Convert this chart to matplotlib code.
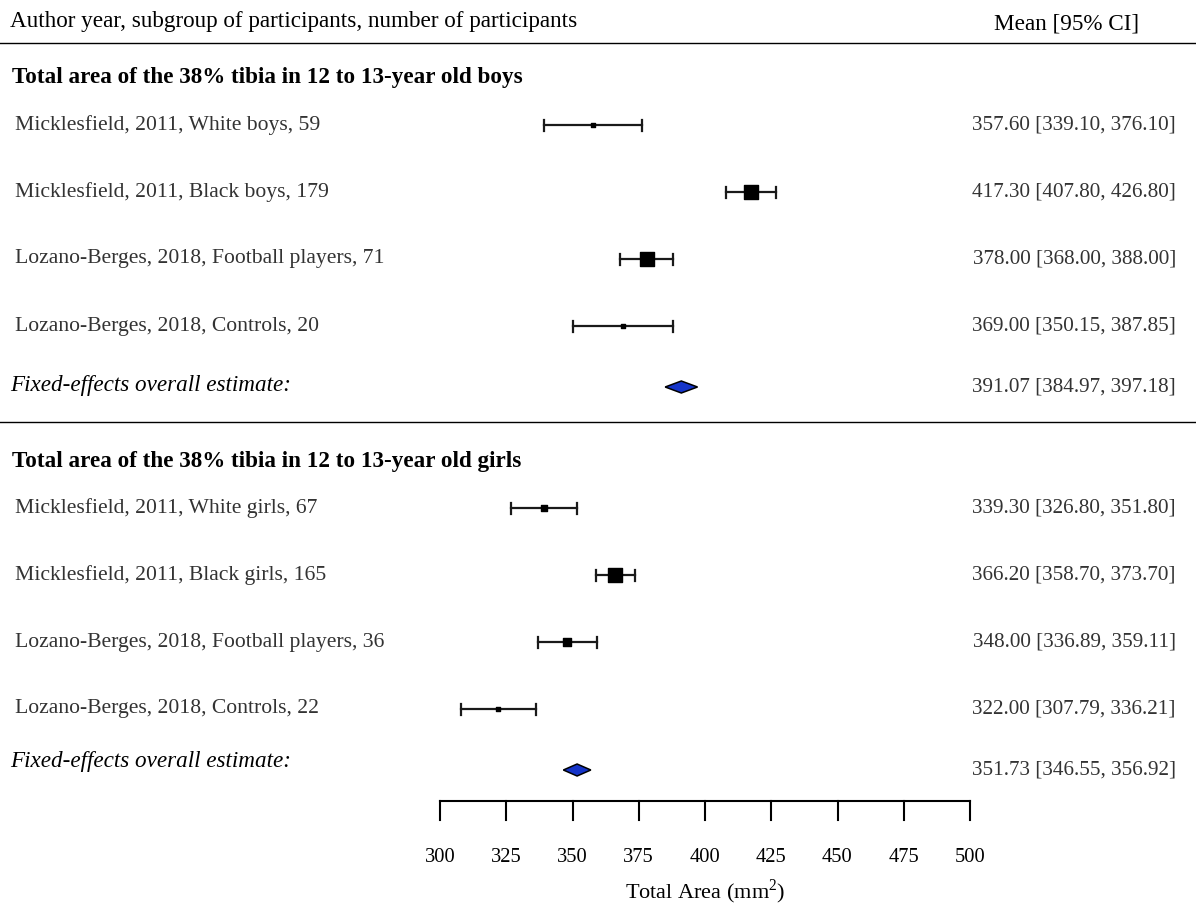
import matplotlib.pyplot as plt
from matplotlib.patches import Polygon

plt.rcParams['font.family'] = ['Liberation Serif', 'DejaVu Serif']

# study rows: label, mean, lower, upper
boys_labels = ["Micklesfield, 2011, White boys, 59",
               "Micklesfield, 2011, Black boys, 179",
               "Lozano-Berges, 2018, Football players, 71",
               "Lozano-Berges, 2018, Controls, 20"]
boys_mean = [357.60, 417.30, 378.00, 369.00]
boys_lo = [339.10, 407.80, 368.00, 350.15]
boys_hi = [376.10, 426.80, 388.00, 387.85]
boys_fe = [391.07, 384.97, 397.18]

girls_labels = ["Micklesfield, 2011, White girls, 67",
                "Micklesfield, 2011, Black girls, 165",
                "Lozano-Berges, 2018, Football players, 36",
                "Lozano-Berges, 2018, Controls, 22"]
girls_mean = [339.30, 366.20, 348.00, 322.00]
girls_lo = [326.80, 358.70, 336.89, 307.79]
girls_hi = [351.80, 373.70, 359.11, 336.21]
girls_fe = [351.73, 346.55, 356.92]

titles = ["Total area of the 38% tibia in 12 to 13-year old boys",
          "Total area of the 38% tibia in 12 to 13-year old girls"]
xticks = [300, 325, 350, 375, 400, 425, 450, 475, 500]

W, H = 1196, 906
PX = 2.65  # pixels per mm^2 on the x scale
X0 = 300 - 440 / PX

fig = plt.figure(figsize=(W / 100, H / 100), dpi=100)
ax = fig.add_axes([0, 0, 1, 1])
ax.set_xlim(X0, X0 + W / PX)
ax.set_ylim(H, 0)
ax.axis('off')
tr = ax.get_yaxis_transform()  # x in axes fraction, y in pixels


def fx(px):
    return px / W


fs_head = 16.7
fs_row = 15.6
fs_num = 15.2
ax.text(fx(10), 22, "Author year, subgroup of participants, number of participants",
        transform=tr, fontsize=fs_head, va='center', ha='left')
ax.text(fx(1067), 24, "Mean [95% CI]", transform=tr, fontsize=fs_head, va='center', ha='center')
ax.plot([0, 1], [43, 43], transform=tr, color='black', lw=1.0)
ax.plot([0, 1], [422, 422], transform=tr, color='black', lw=1.0)


def group(y0, title, labels, mean, lo, hi, fe, fe_dy):
    ax.text(fx(12), y0 - 47, title, transform=tr, fontsize=fs_head, fontweight='bold',
            va='center', ha='left')
    # inverse-variance weights set the square sizes
    w = [1 / ((h - l) / 3.92) ** 2 for l, h in zip(lo, hi)]
    ps = [0.5 + (v - min(w)) / (max(w) - min(w)) for v in w]
    for i in range(len(labels)):
        y = y0 + i * 67
        ax.text(fx(15), y, labels[i], transform=tr, fontsize=fs_row, color='#333333',
                va='center', ha='left')
        ax.text(fx(1176), y, "%.2f [%.2f, %.2f]" % (mean[i], lo[i], hi[i]),
                transform=tr, fontsize=fs_num, color='#333333', va='center', ha='right')
        ax.plot([lo[i], hi[i]], [y, y], color='#1a1a1a', lw=1.6)
        for e in (lo[i], hi[i]):
            ax.plot([e, e], [y - 5.5, y + 5.5], color='#1a1a1a', lw=1.6)
        side = ps[i] * 9.5 * 0.72
        ax.scatter([mean[i]], [y], marker='s', s=side ** 2, color='black', zorder=3)
    yd = y0 + 3 * 67 + 61
    est, l, h = fe
    ax.add_patch(Polygon([(l, yd), (est, yd - 6), (h, yd), (est, yd + 6)],
                         closed=True, facecolor='#1534c8', edgecolor='black', lw=1.1))
    ax.text(fx(10), yd + fe_dy, "Fixed-effects overall estimate:", transform=tr,
            fontsize=fs_head, style='italic', va='center', ha='left')
    ax.text(fx(1176), yd, "%.2f [%.2f, %.2f]" % (est, l, h), transform=tr,
            fontsize=fs_num, color='#333333', va='center', ha='right')


group(125, titles[0], boys_labels, boys_mean, boys_lo, boys_hi, boys_fe, -1)
group(508, titles[1], girls_labels, girls_mean, girls_lo, girls_hi, girls_fe, -9)

# x axis drawn by hand like a forest plot
ax.plot([xticks[0], xticks[-1]], [801, 801], color='black', lw=1.5)
for t in xticks:
    ax.plot([t, t], [801, 820], color='black', lw=1.5)
    ax.text(t, 858, str(t), fontsize=14.8, ha='center', va='center')
ax.text(400, 892, "Total Area (mm$^{\\mathregular{2}}$)", fontsize=16, ha='center', va='center')

fig.savefig("out.png", dpi=100)
